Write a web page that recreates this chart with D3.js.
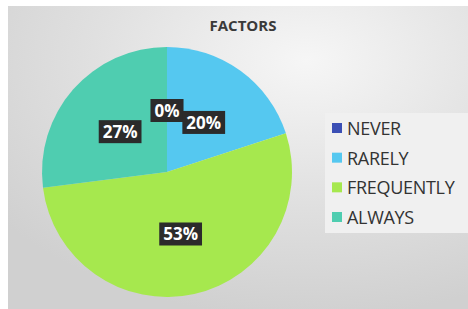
<!DOCTYPE html>
<html>
<head>
<meta charset="utf-8">
<script src="https://cdn.jsdelivr.net/npm/d3@7"></script>
<style>
  html, body { margin: 0; padding: 0; background: #fff; }
  svg { display: block; font-family: 'Open Sans', 'Noto Sans', sans-serif; }
</style>
</head>
<body>
<svg id="chart" width="468" height="309"></svg>
<script>
// 데이터
const categories = ['NEVER', 'RARELY', 'FREQUENTLY', 'ALWAYS'];
const values = [0, 20, 53, 27];
const colors = ['#3b4fb5', '#55c8f0', '#a6e84e', '#4fcdb0'];
const chartTitle = 'FACTORS';

const width = 468, height = 309;
const svg = d3.select('#chart');

// 배경 그라데이션
const defs = svg.append('defs');
const grad = defs.append('radialGradient')
  .attr('id', 'bg')
  .attr('cx', '65%').attr('cy', '18%').attr('r', '85%');
grad.append('stop').attr('offset', '0%').attr('stop-color', '#f6f6f6');
grad.append('stop').attr('offset', '55%').attr('stop-color', '#e0e0e0');
grad.append('stop').attr('offset', '100%').attr('stop-color', '#d0d0d0');

svg.append('rect')
  .attr('x', 8).attr('y', 6)
  .attr('width', width - 8).attr('height', height - 6)
  .attr('fill', 'url(#bg)');

// 제목
svg.append('text')
  .attr('x', 243).attr('y', 31)
  .attr('text-anchor', 'middle')
  .style('font-size', '15px')
  .style('font-weight', '700')
  .style('fill', '#3a3a3a')
  .text(chartTitle);

// 파이 차트
const cx = 167, cy = 172, radius = 125;
const data = categories.map((c, i) => ({ name: c, value: values[i], color: colors[i] }));

const pie = d3.pie().sort(null).value(d => d.value);
const arc = d3.arc().innerRadius(0).outerRadius(radius);

const g = svg.append('g').attr('transform', `translate(${cx},${cy})`);
const arcs = pie(data);

g.selectAll('path.slice')
  .data(arcs)
  .enter()
  .append('path')
  .attr('class', 'slice')
  .attr('d', arc)
  .attr('fill', d => d.data.color);

// 레이블 (어두운 상자 + 흰 글씨)
const total = d3.sum(values);
const labels = g.selectAll('g.label')
  .data(arcs)
  .enter()
  .append('g')
  .attr('class', 'label')
  .attr('transform', d => {
    const [x, y] = arc.centroid(d);
    return `translate(${x},${y + 1})`;
  });

labels.append('text')
  .attr('text-anchor', 'middle')
  .attr('dominant-baseline', 'central')
  .style('font-size', '17px')
  .style('font-weight', '700')
  .style('fill', '#ffffff')
  .text(d => Math.round(d.data.value / total * 100) + '%');

labels.each(function() {
  const grp = d3.select(this);
  const bb = grp.select('text').node().getBBox();
  grp.insert('rect', 'text')
    .attr('x', bb.x - 4).attr('y', bb.y)
    .attr('width', bb.width + 8).attr('height', bb.height)
    .attr('fill', '#2b2b2b');
});

// 범례
svg.append('rect')
  .attr('x', 325).attr('y', 113)
  .attr('width', 143).attr('height', 120)
  .attr('fill', '#f0f0f0');

const legendY = d3.scalePoint()
  .domain(categories)
  .range([128, 217]);

const legend = svg.selectAll('g.legend')
  .data(data)
  .enter()
  .append('g')
  .attr('class', 'legend')
  .attr('transform', d => `translate(332,${legendY(d.name)})`);

legend.append('rect')
  .attr('x', 0).attr('y', -5)
  .attr('width', 10).attr('height', 10)
  .attr('fill', d => d.color);

legend.append('text')
  .attr('x', 15).attr('y', 0)
  .attr('dominant-baseline', 'central')
  .style('font-size', '18px')
  .style('letter-spacing', '-0.3px')
  .style('fill', '#333')
  .text(d => d.name);
</script>
</body>
</html>
